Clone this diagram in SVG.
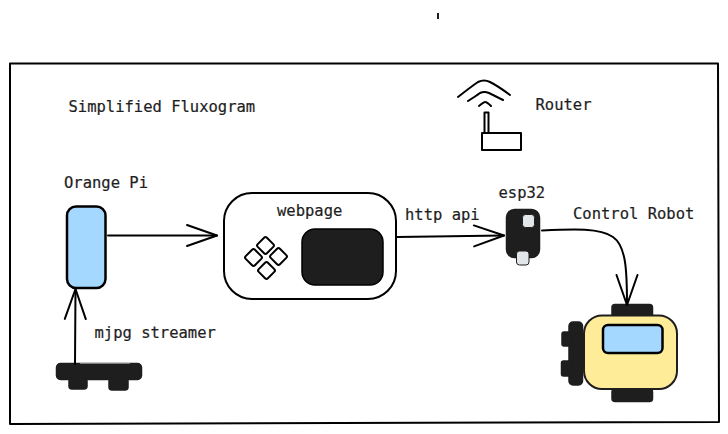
<svg xmlns="http://www.w3.org/2000/svg" width="728" height="434" viewBox="0 0 728 434">
<defs>
<style>
text{font-family:"DejaVu Sans Mono","Liberation Mono",monospace;font-size:15.5px;fill:#1e1e1e;stroke:#1e1e1e;stroke-width:.2}
.l{fill:none;stroke:#000;stroke-width:2;stroke-linecap:round;stroke-linejoin:round}
.d{fill:#1e1e1e;stroke:#1e1e1e;stroke-width:1.5}
.w{fill:#fff;stroke:#000;stroke-width:2}
.b{fill:#a5d8ff;stroke:#000;stroke-width:2.500}
.p{fill:#e2e6ea;stroke:#1e1e1e;stroke-width:1}
</style>
<marker id="a" markerUnits="userSpaceOnUse" markerWidth="36" markerHeight="36" refX="32" refY="18" orient="auto"><path d="M2 7.500L32 18L2 28.500" fill="none" stroke="#000" stroke-width="2" stroke-linecap="round" stroke-linejoin="round"/></marker>
</defs>
<rect width="728" height="434" fill="#fff"/>
<path d="M438 13V19" stroke="#1e1e1e" stroke-width="2" fill="none"/>
<path id="frame" class="l" d="M10 63.500L718 63.500L719 422L10 424Z"/>
<g id="title"><text x="68.500" y="112">Simplified Fluxogram</text></g>
<g id="router">
<path class="l" d="M458 97Q472 86 478 82Q484 79 490 82Q498 86 510 95M468 101Q476 96 480 93Q484 91 489 93Q495 96 503 100M479 106Q484 102 485 102Q487 102 491 106"/>
<path class="l" d="M484.500 132V112.500H488.500V132"/>
<rect class="l" x="482" y="133" width="39" height="17"/>
<text x="535.500" y="110">Router</text>
</g>
<g id="orange-pi">
<text x="64" y="188">Orange Pi</text>
<rect class="b" x="67" y="206.500" width="38.500" height="81.500" rx="9"/>
</g>
<g id="webpage">
<rect class="w" x="224" y="193" width="172" height="106" rx="28"/>
<text x="277" y="216">webpage</text>
<rect class="w" x="259" y="239" width="13" height="13" rx="2" transform="rotate(45 265.500 245.500)"/>
<rect class="w" x="247" y="251" width="13" height="13" rx="2" transform="rotate(45 253.500 257.500)"/>
<rect class="w" x="272" y="250" width="13" height="13" rx="2" transform="rotate(45 278.500 256.500)"/>
<rect class="w" x="260" y="264" width="13" height="13" rx="2" transform="rotate(45 266.500 270.500)"/>
<rect x="302" y="229" width="81" height="56" rx="13" fill="#1e1e1e" stroke="#000" stroke-width="1.500"/>
</g>
<g id="esp32">
<text x="498.500" y="198">esp32</text>
<rect class="d" x="506.500" y="209.500" width="33" height="48" rx="8"/>
<rect class="p" x="522.500" y="214.500" width="12" height="13" rx="3"/>
<rect class="p" x="516.500" y="251" width="12.500" height="14" rx="3"/>
</g>
<g id="camera">
<rect class="d" x="56.500" y="363.500" width="85" height="16" rx="4"/>
<rect class="d" x="69" y="378" width="18" height="11" rx="3"/>
<rect class="d" x="109" y="378" width="19" height="12" rx="3"/>
<path d="M80 363.500H130" stroke="#999" stroke-width=".8" fill="none"/>
</g>
<g id="robot">
<rect class="d" x="612" y="304.500" width="40.500" height="14" rx="3"/>
<rect class="d" x="612" y="389" width="40.500" height="12.500" rx="3"/>
<rect class="d" x="569" y="322" width="13.500" height="63" rx="4"/>
<rect class="d" x="562" y="332" width="10" height="14" rx="2"/>
<rect class="d" x="561.500" y="361" width="10" height="15" rx="2"/>
<rect x="584" y="315.500" width="93" height="73.500" rx="18" fill="#ffec99" stroke="#1e1e1e" stroke-width="2"/>
<rect class="b" x="603" y="325" width="59.500" height="28" rx="5"/>
</g>
<g id="connectors">
<path class="l" marker-end="url(#a)" d="M108 235.500H217"/>
<path class="l" marker-end="url(#a)" d="M397 237L504 235.500"/>
<path class="l" marker-end="url(#a)" d="M542 230.500C575 229 600 228 613 237C626 246 627 270 627 305"/>
<path class="l" marker-end="url(#a)" d="M75 364L75.500 289"/>
</g>
<g id="labels">
<text x="405" y="220">http api</text>
<text x="573" y="219">Control Robot</text>
<text x="94.500" y="338">mjpg streamer</text>
</g>
</svg>
